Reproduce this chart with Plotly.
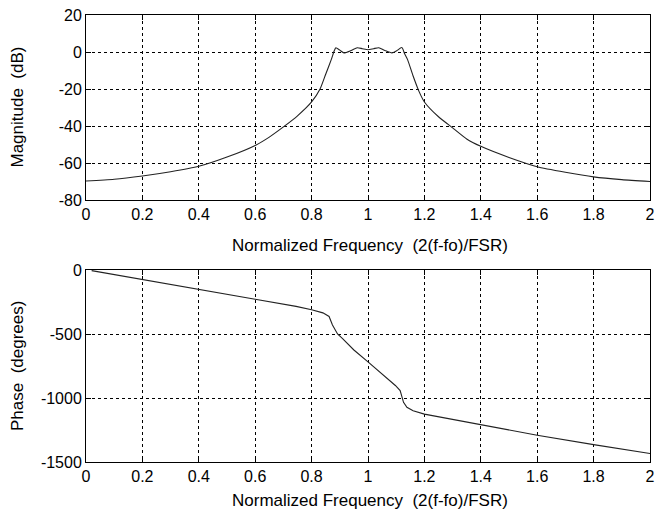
import plotly.graph_objects as go

# ---- data ----
mag_freq = [0.0, 0.1, 0.2, 0.3, 0.4, 0.5, 0.6, 0.65, 0.7, 0.75, 0.8, 0.83, 0.85, 0.87,
            0.88, 0.886, 0.9, 0.915, 0.94, 0.962, 0.98, 1.0, 1.02, 1.038, 1.06, 1.085,
            1.1, 1.12, 1.13, 1.14, 1.16, 1.18, 1.2, 1.25, 1.3, 1.35, 1.4, 1.5, 1.6,
            1.7, 1.8, 1.9, 2.0]
mag_db = [-69.7, -68.8, -67.0, -64.7, -61.8, -56.8, -50.5, -46.0, -40.5, -34.5, -27.0,
          -20.0, -12.0, -4.0, 0.5, 2.3, 1.0, -0.5, 0.8, 2.3, 1.8, 1.2, 1.8, 2.3, 0.8,
          -0.5, 0.5, 2.4, -1.0, -4.0, -13.0, -21.0, -27.0, -35.0, -41.0, -47.0, -51.0,
          -57.0, -62.0, -65.0, -67.5, -69.0, -70.0]

ph_freq = [0.02, 0.2, 0.4, 0.6, 0.745, 0.8, 0.84, 0.862, 0.874, 0.892, 0.909, 0.95,
           1.0, 1.05, 1.097, 1.114, 1.126, 1.138, 1.16, 1.2, 1.4, 1.6, 1.8, 2.0]
ph_deg = [-5, -76, -150, -228, -284, -310, -335, -363, -429, -500, -534, -625,
          -718, -810, -902, -942, -1034, -1073, -1100, -1126, -1210, -1291, -1364, -1434]

x_ticks = [0, 0.2, 0.4, 0.6, 0.8, 1.0, 1.2, 1.4, 1.6, 1.8, 2.0]
x_tick_labels = ["0", "0.2", "0.4", "0.6", "0.8", "1", "1.2", "1.4", "1.6", "1.8", "2"]
mag_ticks = [20, 0, -20, -40, -60, -80]
mag_tick_labels = ["20", "0", "-20", "-40", "-60", "-80"]
ph_ticks = [0, -500, -1000, -1500]
ph_tick_labels = ["0", "-500", "-1000", "-1500"]

x_title = "Normalized Frequency\u00a0\u00a0(2(f-fo)/FSR)"
mag_title = "Magnitude\u00a0\u00a0(dB)"
ph_title = "Phase\u00a0\u00a0(degrees)"

FONT = "Liberation Sans, Arial, sans-serif"
# The page body has an 8px margin; the figure is sized so that nothing overflows
# the 663x518 window and positions are expressed in page pixels.
OFF = 8
W, H = 647, 502
P_LEFT, P_RIGHT, P_TOP, P_BOT = 86, 650, 15, 462   # page pixel positions of plot box
ML, MR, MT, MB = P_LEFT - OFF, (OFF + W) - P_RIGHT, P_TOP - OFF, (OFF + H) - P_BOT
plot_w = P_RIGHT - P_LEFT
plot_h = P_BOT - P_TOP


def py(page_y):
    return (P_BOT - page_y) / plot_h


def px(page_x):
    return (page_x - P_LEFT) / plot_w


fig = go.Figure()
fig.add_trace(go.Scatter(x=mag_freq, y=mag_db, mode="lines",
                         line=dict(color="#222222", width=1.1, shape="spline", smoothing=0.6),
                         xaxis="x", yaxis="y", showlegend=False))
fig.add_trace(go.Scatter(x=ph_freq, y=ph_deg, mode="lines",
                         line=dict(color="#222222", width=1.1),
                         xaxis="x2", yaxis="y2", showlegend=False))

top_dom = [py(200), 1.0]
bot_dom = [0.0, py(270)]

axis_common = dict(
    showline=True, linecolor="black", linewidth=1, mirror="allticks",
    ticks="inside", ticklen=5, tickcolor="black",
    showgrid=True, gridcolor="black", gridwidth=1, griddash="3px,3px",
    zeroline=False, ticklabeloverflow="allow",
    tickfont=dict(family=FONT, size=16, color="black"),
)

fig.update_layout(
    width=W, height=H,
    margin=dict(l=ML, r=MR, t=MT, b=MB, autoexpand=False),
    paper_bgcolor="white", plot_bgcolor="white",
    font=dict(family=FONT, size=16, color="black"),
    xaxis=dict(domain=[0, 1], anchor="y", range=[0, 2], tickvals=x_ticks,
               ticktext=x_tick_labels, **axis_common),
    yaxis=dict(domain=top_dom, anchor="x", range=[-80, 20], tickvals=mag_ticks,
               ticktext=mag_tick_labels, **axis_common),
    xaxis2=dict(domain=[0, 1], anchor="y2", range=[0, 2], tickvals=x_ticks,
                ticktext=x_tick_labels, **axis_common),
    yaxis2=dict(domain=bot_dom, anchor="x2", range=[-1500, 0], tickvals=ph_ticks,
                ticktext=ph_tick_labels, **axis_common),
)

title_font = dict(family=FONT, size=17, color="black")
fig.add_annotation(text=mag_title, xref="paper", yref="paper",
                   x=px(17), y=(top_dom[0] + top_dom[1]) / 2, textangle=-90,
                   showarrow=False, xanchor="center", yanchor="middle", font=title_font)
fig.add_annotation(text=ph_title, xref="paper", yref="paper",
                   x=px(17), y=(bot_dom[0] + bot_dom[1]) / 2, textangle=-90,
                   showarrow=False, xanchor="center", yanchor="middle", font=title_font)
fig.add_annotation(text=x_title, xref="paper", yref="paper",
                   x=px(370), y=py(245), showarrow=False,
                   xanchor="center", yanchor="middle", font=title_font)
fig.add_annotation(text=x_title, xref="paper", yref="paper",
                   x=px(370), y=py(500), showarrow=False,
                   xanchor="center", yanchor="middle", font=title_font)

fig.write_html("out.html")
